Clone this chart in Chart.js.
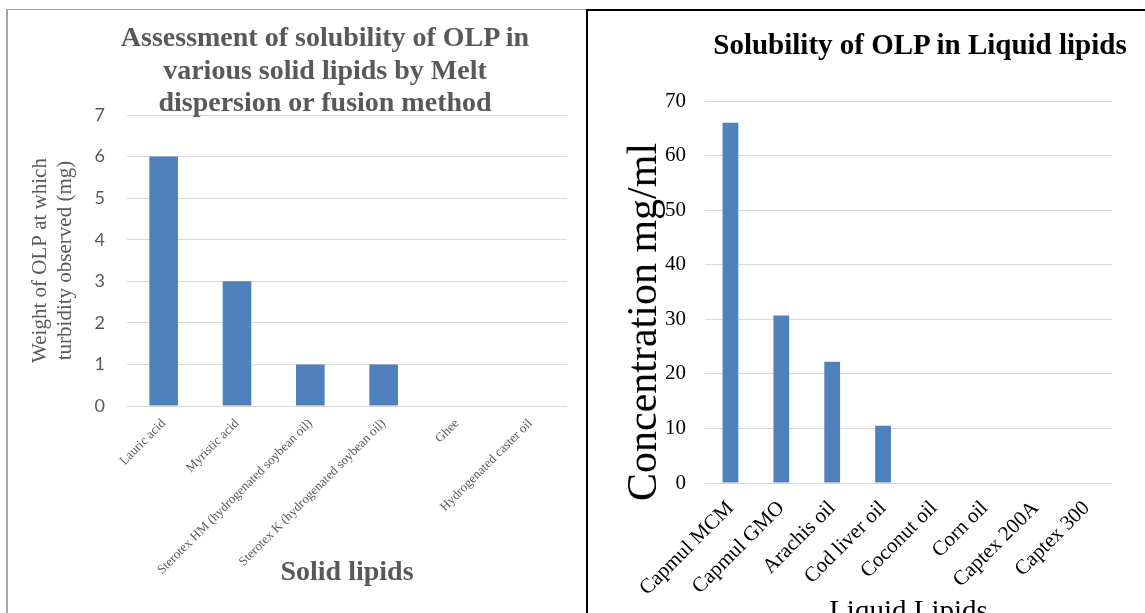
<!DOCTYPE html>
<html>
<head>
<meta charset="utf-8">
<script src="https://cdn.jsdelivr.net/npm/chart.js@4.4.1/dist/chart.umd.min.js"></script>
<style>
  html, body { margin: 0; padding: 0; background: #fff; width: 1145px; height: 613px; overflow: hidden; }
  #stage { position: relative; width: 1145px; height: 613px; overflow: hidden; }
  .frame { position: absolute; box-sizing: border-box; }
  #solidFrame { left: 6px; top: 9px; width: 582px; height: 700px; border-left: 2px solid #a6a6a6; border-top: 1px solid #a6a6a6; }
  #liquidFrame { left: 586px; top: 9px; width: 600px; height: 700px; border-left: 2px solid #000; border-top: 2px solid #000; }
  canvas { position: absolute; top: 0; }
  #solidChart { left: 0; }
  #liquidChart { left: 588px; }
  .txt { position: absolute; white-space: nowrap; font-family: "Liberation Serif", "Times New Roman", serif; }
  #solidTitle { left: 325px; top: 21px; transform: translateX(-50%); text-align: center;
                font-size: 28px; font-weight: bold; line-height: 32.5px; color: #595959; }
  #liquidTitle { left: 920px; top: 28px; transform: translateX(-50%);
                 font-size: 29px; font-weight: bold; line-height: 32px; color: #000; }
  #liquidYTitle { left: 642px; top: 322px; transform: translate(-50%, -50%) rotate(-90deg);
                  font-size: 42px; line-height: 42px; color: #000; }
</style>
</head>
<body>
<div id="stage">
  <div class="frame" id="solidFrame"></div>
  <div class="frame" id="liquidFrame"></div>
  <canvas id="solidChart" width="586" height="640"></canvas>
  <canvas id="liquidChart" width="557" height="640"></canvas>
  <div class="txt" id="solidTitle">Assessment of solubility of OLP in<br>various solid lipids by Melt<br>dispersion or fusion method</div>
  <div class="txt" id="liquidTitle">Solubility of OLP in Liquid lipids</div>
  <div class="txt" id="liquidYTitle">Concentration mg/ml</div>
</div>
<script>
// Solid lipids: weight of OLP (mg) at which turbidity was observed
const solidLipids = [
  'Lauric acid',
  'Myristic acid',
  'Sterotex HM (hydrogenated soybean oil)',
  'Sterotex K (hydrogenated soybean oil)',
  'Ghee',
  'Hydrogenated caster oil'
];
const solidWeightMg = [6, 3, 1, 1, 0, 0];
const solidAxisMax = 7;
const solidAxisStep = 1;

// Liquid lipids: solubility of OLP (mg/ml)
const liquidLipids = [
  'Capmul MCM',
  'Capmul GMO',
  'Arachis oil',
  'Cod liver oil',
  'Coconut oil',
  'Corn oil',
  'Captex 200A',
  'Captex 300'
];
const liquidConcMgMl = [66, 30.7, 22.2, 10.5, 0, 0, 0, 0];
const liquidAxisMax = 70;
const liquidAxisStep = 10;

const BAR_BLUE = '#4f81bd';
const GRID_GREY = '#d9d9d9';
const SERIF = '"Liberation Serif", "Times New Roman", serif';

Chart.defaults.animation = false;

new Chart(document.getElementById('solidChart'), {
  type: 'bar',
  data: {
    labels: solidLipids,
    datasets: [{
      data: solidWeightMg,
      backgroundColor: BAR_BLUE,
      borderWidth: 0,
      categoryPercentage: 1,
      barPercentage: 0.39
    }]
  },
  options: {
    responsive: false,
    layout: { padding: { left: 0, top: 115, right: 19, bottom: 0 } },
    plugins: { legend: { display: false }, tooltip: { enabled: false } },
    scales: {
      x: {
        grid: { display: false, drawTicks: false },
        border: { display: false },
        ticks: {
          autoSkip: false, minRotation: 45, maxRotation: 45,
          color: '#595959', font: { family: SERIF, size: 13 }, padding: 10
        },
        title: {
          display: true, text: 'Solid lipids', color: '#595959',
          font: { family: SERIF, size: 28, weight: 'bold' },
          padding: { top: 0, bottom: 50 }
        },
        afterFit: (s) => { s.height = 234; }
      },
      y: {
        min: 0, max: solidAxisMax,
        grid: { color: GRID_GREY, lineWidth: 1, drawTicks: false },
        border: { display: false },
        ticks: {
          stepSize: solidAxisStep, color: '#595959',
          font: { family: 'Lato, "Liberation Sans", sans-serif', size: 18 }, padding: 22
        },
        title: {
          display: true, text: ['Weight of OLP at which', 'turbidity observed (mg)'],
          color: '#595959', font: { family: SERIF, size: 21, lineHeight: 1.2 },
          padding: { top: 28, bottom: 0 }
        },
        afterFit: (s) => { s.width = 127; }
      }
    }
  }
});

new Chart(document.getElementById('liquidChart'), {
  type: 'bar',
  data: {
    labels: liquidLipids,
    datasets: [{
      data: liquidConcMgMl,
      backgroundColor: BAR_BLUE,
      borderWidth: 0,
      categoryPercentage: 1,
      barPercentage: 0.31
    }]
  },
  options: {
    responsive: false,
    layout: { padding: { left: 0, top: 101, right: 33, bottom: 0 } },
    plugins: { legend: { display: false }, tooltip: { enabled: false } },
    scales: {
      x: {
        grid: { display: false, drawTicks: false },
        border: { display: false },
        ticks: {
          autoSkip: false, minRotation: 45, maxRotation: 45,
          color: '#000', font: { family: SERIF, size: 21 }, padding: 13
        },
        title: {
          display: true, text: 'Liquid Lipids', color: '#000',
          font: { family: SERIF, size: 29, lineHeight: 1.2 },
          padding: { top: 0, bottom: 10 }
        },
        afterFit: (s) => { s.height = 157; }
      },
      y: {
        min: 0, max: liquidAxisMax,
        grid: { color: GRID_GREY, lineWidth: 1, drawTicks: false },
        border: { display: false },
        ticks: {
          stepSize: liquidAxisStep, color: '#000',
          font: { family: SERIF, size: 21 }, padding: 19
        },
        afterFit: (s) => { s.width = 117; }
      }
    }
  }
});
</script>
</body>
</html>
